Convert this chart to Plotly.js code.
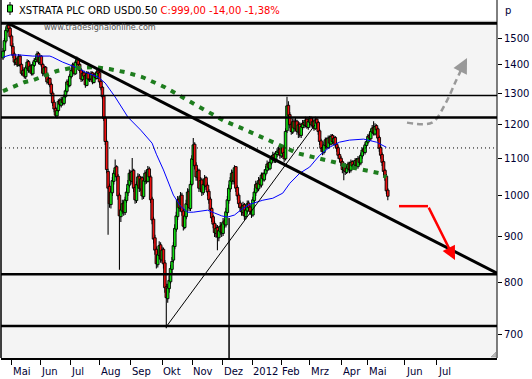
<!DOCTYPE html>
<html><head><meta charset="utf-8">
<script src="https://cdn.plot.ly/plotly-3.0.1.min.js"></script>
<style>html,body{margin:0;padding:0;background:#fff}#chart{width:532px;height:379px}</style>
</head><body><div id="chart"></div>
<script>
// ---- data (daily candles, trading-day index) ----
const open=[1425,1452,1488,1528,1550,1538,1508,1468,1440,1408,
1422,1398,1432,1402,1368,1382,1358,1388,1412,1378,
1398,1368,1398,1412,1418,1442,1408,1432,1402,1368,
1392,1362,1338,1352,1332,1302,1272,1252,1228,1245,
1278,1262,1282,1268,1290,1308,1342,1328,1358,1378,
1402,1368,1408,1422,1402,1382,1348,1372,1362,1328,
1372,1348,1350,1372,1338,1368,1352,1378,1372,1342,
1322,1292,1222,1150,1065,1025,978,1008,1038,1058,
1078,1052,1002,948,962,982,958,988,1008,1028,
1062,1038,1068,1022,988,1028,1052,1018,1048,998,
1038,1062,1038,1072,1050,992,942,898,872,838,
858,882,848,872,842,792,768,788,802,828,
848,878,918,948,992,968,1002,962,922,948,
978,1012,968,1030,1098,1142,1082,1048,1068,1018,
1042,1008,1028,1048,1028,1012,992,968,948,932,
908,922,898,912,928,908,938,928,958,988,
1018,1038,1062,1038,1078,1022,1002,982,972,958,
978,948,962,982,972,962,952,988,1008,1032,
1018,1042,1028,1058,1042,1058,1068,1088,1072,1088,
1098,1112,1092,1112,1118,1128,1108,1138,1118,1100,
1182,1262,1232,1202,1178,1212,1188,1212,1178,1202,
1168,1192,1208,1198,1218,1192,1208,1222,1198,1212,
1188,1218,1208,1182,1152,1132,1118,1138,1158,1132,
1162,1142,1168,1148,1162,1142,1132,1112,1102,1092,
1068,1082,1062,1072,1088,1068,1092,1078,1082,1098,
1078,1102,1088,1108,1128,1118,1138,1148,1168,1158,
1178,1192,1172,1198,1188,1162,1132,1112,1092,1068,
1052,1015];
const high=[1462,1500,1542,1563,1560,1545,1515,1480,1448,1432,
1428,1440,1438,1408,1392,1388,1398,1420,1418,1405,
1402,1410,1425,1432,1450,1448,1438,1436,1408,1398,
1396,1370,1358,1356,1338,1308,1280,1258,1255,1282,
1285,1290,1288,1298,1318,1348,1350,1368,1390,1408,
1406,1416,1430,1426,1408,1388,1378,1380,1368,1378,
1376,1362,1378,1376,1372,1372,1382,1388,1375,1348,
1326,1296,1226,1155,1072,1032,1020,1050,1068,1098,
1082,1058,1008,975,990,988,998,1020,1042,1070,
1068,1102,1072,1028,1038,1060,1058,1052,1052,1048,
1068,1070,1080,1078,1055,998,948,905,878,868,
890,888,878,876,848,798,798,815,838,855,
888,930,960,1000,998,1010,1008,968,958,990,
1020,1018,1040,1110,1160,1148,1090,1075,1072,1050,
1048,1040,1055,1052,1035,1018,998,972,952,938,
930,928,925,935,932,945,942,970,1000,1030,
1050,1070,1068,1082,1080,1028,1008,988,978,985,
982,975,988,988,978,968,998,1020,1040,1038,
1050,1048,1062,1062,1070,1080,1095,1092,1100,1110,
1120,1118,1122,1130,1135,1132,1142,1140,1122,1190,
1290,1275,1240,1208,1220,1218,1222,1216,1210,1208,
1205,1215,1215,1225,1222,1220,1228,1226,1222,1218,
1225,1222,1212,1188,1158,1138,1150,1162,1162,1168,
1168,1172,1172,1168,1166,1148,1138,1118,1108,1098,
1090,1088,1085,1092,1092,1098,1096,1095,1102,1102,
1108,1106,1118,1132,1135,1148,1158,1172,1175,1188,
1200,1211,1205,1202,1192,1168,1138,1118,1098,1072,
1058,1020];
const low=[1418,1445,1480,1520,1525,1498,1460,1425,1398,1400,
1392,1395,1392,1362,1360,1352,1350,1382,1372,1370,
1362,1362,1392,1405,1412,1402,1400,1392,1360,1362,
1352,1332,1330,1322,1292,1260,1240,1222,1220,1240,
1258,1255,1262,1262,1285,1302,1322,1322,1352,1372,
1362,1365,1402,1392,1372,1340,1342,1352,1320,1325,
1342,1340,1345,1332,1335,1348,1348,1362,1330,1312,
1282,1212,1140,1060,905,970,968,1000,1030,1050,
1040,990,827,935,955,950,952,982,1000,1022,
1030,1032,1010,980,982,1020,1010,1012,990,992,
1030,1032,1035,1040,982,930,885,860,830,832,
850,842,842,830,780,712,760,780,798,820,
842,872,912,940,960,962,950,915,918,942,
972,962,962,1025,1090,1070,1040,1040,1010,1012,
1000,1002,1020,1015,1000,980,955,935,920,900,
898,870,890,905,900,902,920,922,950,980,
1010,1030,1030,1032,1010,990,970,960,950,950,
940,942,955,962,952,945,948,982,1000,1010,
1012,1022,1022,1038,1038,1052,1062,1068,1068,1082,
1092,1088,1088,1105,1110,1100,1102,1105,1090,1095,
1175,1220,1190,1170,1172,1180,1182,1170,1160,1162,
1160,1185,1190,1192,1188,1185,1200,1192,1192,1182,
1185,1195,1170,1140,1120,1110,1112,1130,1128,1128,
1138,1138,1142,1140,1132,1120,1100,1090,1080,1060,
1041,1055,1058,1065,1060,1062,1072,1070,1075,1072,
1072,1082,1082,1100,1112,1112,1132,1142,1150,1152,
1172,1168,1168,1175,1150,1120,1100,1080,1055,1040,
1005,989];
const close=[1450,1490,1530,1548,1535,1505,1470,1435,1410,1420,
1400,1430,1400,1370,1380,1360,1390,1410,1380,1395,
1370,1400,1415,1420,1440,1410,1430,1400,1370,1390,
1360,1340,1350,1330,1300,1270,1250,1230,1245,1275,
1265,1280,1270,1290,1310,1340,1330,1360,1380,1400,
1370,1410,1420,1400,1380,1350,1370,1360,1330,1370,
1350,1350,1370,1340,1365,1355,1375,1370,1340,1320,
1290,1220,1150,1070,1020,980,1010,1040,1060,1075,
1050,1000,950,965,980,960,990,1010,1030,1060,
1040,1065,1020,990,1030,1050,1020,1045,1000,1040,
1060,1040,1070,1050,990,940,895,870,840,860,
880,850,870,840,790,770,790,805,830,845,
880,920,950,990,970,1000,960,925,950,980,
1010,970,1030,1100,1140,1080,1050,1065,1020,1040,
1010,1030,1045,1025,1010,990,965,945,930,910,
920,900,915,925,910,935,930,960,990,1020,
1040,1060,1040,1075,1020,1000,980,970,960,975,
950,965,980,970,960,955,990,1010,1030,1020,
1040,1030,1055,1045,1060,1070,1085,1075,1090,1100,
1110,1095,1115,1120,1125,1110,1135,1115,1100,1180,
1260,1230,1200,1180,1210,1190,1210,1180,1200,1170,
1195,1205,1200,1215,1195,1210,1220,1200,1210,1190,
1215,1205,1180,1150,1130,1120,1140,1155,1135,1160,
1145,1165,1150,1160,1140,1130,1110,1100,1090,1070,
1080,1065,1075,1085,1070,1090,1080,1085,1095,1080,
1100,1090,1110,1125,1120,1140,1150,1165,1160,1180,
1190,1175,1195,1185,1160,1130,1110,1090,1065,1050,
1013,999];

// moving averages (index, value)
const maBlueIdx=[0,5,12,21,33,35,42,47,53,58,63,67,72,79,88,97,105,108,113,116,120,125,130,134,139,144,149,154,158,163,168,174,183,190,197,202,209,216,223,230,237,244,254,263,270];
const maBlueVal=[1428,1436,1436,1432,1432,1428,1410,1399,1388,1374,1364,1357,1336,1289,1224,1184,1145,1113,1069,1041,1002,974,959,959,962,964,957,950,947,952,966,979,989,994,1007,1033,1060,1077,1110,1133,1148,1154,1157,1148,1133];
const maGreenIdx=[0,5,11,15,21,27,32,38,47,58,65,75,86,98,107,114,135,156,168,179,185,190,195,201,207,213,218,225,230,236,242,248,254,260,265,270];
const maGreenVal=[1309,1319,1329,1339,1346,1357,1364,1378,1388,1392,1392,1385,1374,1357,1339,1322,1265,1212,1190,1169,1160,1148,1139,1128,1116,1110,1107,1099,1093,1088,1079,1074,1069,1063,1060,1049];

// axis ticks
const monthTickIdx=[6.1,26.1,47.2,68.3,90.1,112.0,133.1,154.9,175.4,195.8,216.2,238.7,257.0,283.1,305.6];
const monthLabels=['Mai','Jun','Jul','Aug','Sep','Okt','Nov','Dez','2012','Feb','Mrz','Apr','Mai','Jun','Jul'];
const priceTicks=[700,800,900,1000,1100,1200,1300,1400,1500];
const priceLabels=['700','800','900','1000','1100','1200','1300','1400','1500'];

// drawn analysis lines
const levelValues=[1558,1294,1223,1131,818,716];
const resistX=[3.5,347.9], resistY=[1558,820];
const supportX=[114.8,219.7], supportY=[714,1200];
const markerX=[159.2], markerTop=[945];
const redPathX=[278.9,299.3,318.3], redPathY=[974,974,848];
const greyPathX=[284.5,302.1,311.3,318.3,323.5,326.8], greyPathY=[1207,1207,1265,1336,1392,1425];

// ---- styles ----
const levelWidths=[3,1.5,2.5,1,2.5,2.5];
const levelDash=['solid','solid','solid','1px,3px','solid','solid'];
const FONT='DejaVu Sans';
const TXT='#000033';

const idx=close.map((_,i)=>i);
const bodyBase=close.map((c,i)=>Math.min(c,open[i]));
const bodyLen=close.map((c,i)=>Math.abs(c-open[i]));
const bodyCol=close.map((c,i)=>c>=open[i]?'#10e010':'#ee1010');

const traces=[
 {type:'bar',x:idx,y:high.map((h,i)=>h-low[i]),base:low,width:0.75,
  marker:{color:'#000',line:{width:0}},hoverinfo:'skip'},
 {type:'bar',x:idx,y:bodyLen,base:bodyBase,width:1.8,
  marker:{color:bodyCol,line:{color:'#000',width:0.9}},hoverinfo:'skip'},
 {type:'scatter',mode:'lines',x:maBlueIdx,y:maBlueVal,line:{color:'#0000ff',width:1},hoverinfo:'skip'},
 {type:'scatter',mode:'lines',x:maGreenIdx,y:maGreenVal,line:{color:'#1e7d1e',width:4,dash:'5px,6px'},hoverinfo:'skip'},
 {type:'scatter',mode:'lines',x:redPathX.slice(0,2),y:redPathY.slice(0,2),line:{color:'#ff0000',width:2.5},hoverinfo:'skip'},
 {type:'scatter',mode:'lines',x:greyPathX.slice(0,5),y:greyPathY.slice(0,5),line:{color:'#999999',width:2.5,dash:'6px,4px',shape:'spline'},hoverinfo:'skip'}
];

const pxX=p=>(p-1)/496, pxY=p=>(358-p)/338;
const shapes=[];
levelValues.forEach((v,i)=>shapes.push({type:'line',xref:'paper',yref:'y',x0:0,x1:1,y0:v,y1:v,
  line:{color:'#000',width:levelWidths[i],dash:levelDash[i]}}));
shapes.push({type:'line',xref:'x',yref:'y',x0:resistX[0],x1:resistX[1],y0:resistY[0],y1:resistY[1],line:{color:'#000',width:3}});
shapes.push({type:'line',xref:'x',yref:'y',x0:supportX[0],x1:supportX[1],y0:supportY[0],y1:supportY[1],line:{color:'#000',width:1}});
shapes.push({type:'line',xref:'x',yref:'y',x0:markerX[0],x1:markerX[0],y0:markerTop[0],y1:600,line:{color:'#000',width:1.5}});
// frame
shapes.push({type:'line',xref:'paper',yref:'paper',x0:0,x1:0,y0:0,y1:pxY(0),line:{color:'#000',width:1.5}});
shapes.push({type:'line',xref:'paper',yref:'paper',x0:1,x1:1,y0:0,y1:pxY(0),line:{color:'#000',width:1}});
// title icon
shapes.push({type:'line',xref:'paper',yref:'paper',x0:pxX(10),x1:pxX(10),y0:pxY(15),y1:pxY(2),line:{color:'#000',width:1}});
shapes.push({type:'rect',xref:'paper',yref:'paper',x0:pxX(7.5),x1:pxX(12.5),y0:pxY(12),y1:pxY(5),fillcolor:'#22dd22',line:{color:'#000',width:1}});
// resize glyph in the corner
shapes.push({type:'path',xref:'paper',yref:'paper',path:'M '+pxX(496)+' '+pxY(352)+' L '+pxX(496)+' '+pxY(357)+' L '+pxX(491)+' '+pxY(357)+' Z',
  fillcolor:'#bbbbbb',line:{color:'#888',width:0.5}});

const L=Math.log10;
const annotations=[
 {xref:'paper',yref:'paper',x:pxX(17),y:pxY(10.3),xanchor:'left',yanchor:'middle',showarrow:false,
  text:"XSTRATA PLC ORD USD0.50 <span style='color:#ff0000'>C:999,00 -14,00 -1,38%</span>",
  font:{family:FONT,size:10,color:'#000'}},
 {xref:'paper',yref:'paper',x:pxX(503),y:pxY(10),xanchor:'left',yanchor:'middle',showarrow:false,
  text:'p',font:{family:FONT,size:10,color:TXT}},
 {xref:'paper',yref:'paper',x:pxX(42),y:pxY(26.5),xanchor:'left',yanchor:'middle',showarrow:false,
  text:'www.tradesignalonline.com',font:{family:'DejaVu Sans Condensed',size:9,color:'#555'}},
 {xref:'x',yref:'y',axref:'x',ayref:'y',x:redPathX[2],y:L(redPathY[2]),ax:redPathX[1],ay:L(redPathY[1]),
  showarrow:true,arrowhead:2,arrowsize:1.1,arrowwidth:2.5,arrowcolor:'#ff0000',standoff:0,text:''},
 {xref:'x',yref:'y',axref:'x',ayref:'y',x:greyPathX[5],y:L(greyPathY[5]),ax:greyPathX[4],ay:L(greyPathY[4]),
  showarrow:true,arrowhead:2,arrowsize:1.2,arrowwidth:2.5,arrowcolor:'#999999',standoff:0,text:''}
];
monthLabels.forEach((t,i)=>annotations.push({xref:'x',yref:'paper',x:monthTickIdx[i],y:pxY(371.5),
  xanchor:'left',yanchor:'middle',xshift:0,showarrow:false,text:t,borderpad:0,
  font:{family:FONT,size:10,color:TXT}}));

const layout={
 width:532,height:379,margin:{l:1,r:35,t:20,b:21,pad:0},
 paper_bgcolor:'#ffffff',plot_bgcolor:'#f4f4f4',showlegend:false,barmode:'overlay',
 xaxis:{range:[-1.41,347.9],tickvals:monthTickIdx,ticktext:monthLabels,showticklabels:false,ticks:'outside',ticklen:5,tickcolor:'#000',
  showgrid:false,zeroline:false,showline:true,linecolor:'#000',linewidth:1.5},
 yaxis:{type:'log',side:'right',range:[L(659.5),L(1571)],tickvals:priceTicks,ticktext:priceLabels,ticks:'outside',
  ticklen:4,tickcolor:'#000',showgrid:false,zeroline:false,showline:false,tickfont:{family:FONT,size:10,color:TXT}},
 shapes:shapes,annotations:annotations,hovermode:false
};
Plotly.newPlot('chart',traces,layout,{staticPlot:true,displayModeBar:false});
</script></body></html>
